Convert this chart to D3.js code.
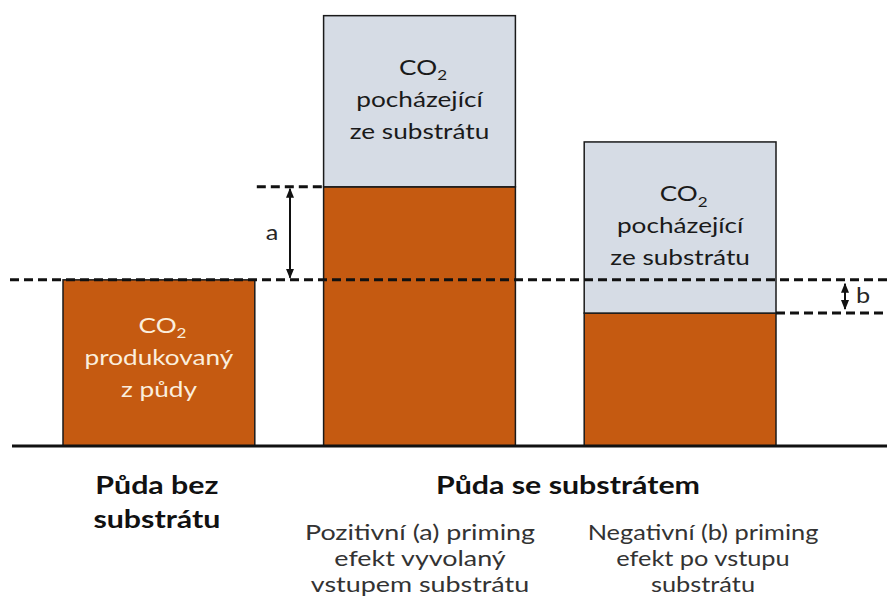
<!DOCTYPE html>
<html>
<head>
<meta charset="utf-8">
<script src="https://cdn.jsdelivr.net/npm/d3@7"></script>
<style>
  body { margin: 0; background: #fff; }
  svg { display: block; font-family: Lato, "Open Sans", sans-serif; }
</style>
</head>
<body>
<svg id="chart" width="887" height="607"></svg>
<script>
// data (soil CO2 without substrate = 100)
var categories = ["bez", "pozitivni", "negativni"];
var soilCO2 = [100, 156, 80];
var substrateCO2 = [0, 103, 103];
var soilLabel = ["CO|2", "produkovaný", "z půdy"];
var substrateLabel = ["CO|2", "pocházející", "ze substrátu"];
var groupLabels = [["Půda bez", "substrátu"], ["Půda se substrátem"]];
var effectLabels = [["Pozitivní (a) priming", "efekt vyvolaný", "vstupem substrátu"],
                    ["Negativní (b) priming", "efekt po vstupu", "substrátu"]];

var orange = "#c55a11", grey = "#d6dce5";

window.onload = function() {
  makeChart();
};

// text block centred on cx, slightly widened like the original
function addText(svg, lines, cx, y0, step, size, sx) {
  var t = svg.append("text")
      .attr("transform", "translate(" + cx + ",0) scale(" + sx + ",1)")
      .attr("text-anchor", "middle")
      .attr("font-size", size);
  lines.forEach(function(line, k) {
    var yy = y0 + k * step;
    if (line.indexOf("|") >= 0) {
      var parts = line.split("|");
      var ln = t.append("tspan").attr("x", 3).attr("y", yy);
      ln.text(parts[0]);
      ln.append("tspan").attr("font-size", size * 0.65).attr("dy", 5).text(parts[1]);
    } else {
      t.append("tspan").attr("x", 0).attr("y", yy).text(line);
    }
  });
  return t;
}

function makeChart() {
  var svg = d3.select("#chart");

  var x = d3.scaleBand()
      .domain(categories)
      .range([63, 776])
      .paddingInner(0.264)
      .paddingOuter(0);

  var y = d3.scaleLinear()
      .domain([0, 260])
      .range([446, 14]);

  var bw = x.bandwidth();

  // soil part
  svg.selectAll("rect.soil")
      .data(categories)
    .enter().append("rect")
      .attr("class", "soil")
      .attr("x", function(d) { return x(d); })
      .attr("y", function(d, i) { return y(soilCO2[i]); })
      .attr("width", bw)
      .attr("height", function(d, i) { return y(0) - y(soilCO2[i]); })
      .attr("fill", orange)
      .attr("stroke", "#1a1a1a")
      .attr("stroke-width", 1.5);

  // substrate part
  svg.selectAll("rect.sub")
      .data(categories.filter(function(d, i) { return substrateCO2[i] > 0; }))
    .enter().append("rect")
      .attr("class", "sub")
      .attr("x", function(d) { return x(d); })
      .attr("y", function(d) { var i = categories.indexOf(d); return y(soilCO2[i] + substrateCO2[i]); })
      .attr("width", bw)
      .attr("height", function(d) { var i = categories.indexOf(d); return y(0) - y(substrateCO2[i]); })
      .attr("fill", grey)
      .attr("stroke", "#1a1a1a")
      .attr("stroke-width", 1.5);

  // baseline
  svg.append("line")
      .attr("x1", 12).attr("x2", 887)
      .attr("y1", y(0)).attr("y2", y(0))
      .attr("stroke", "#111").attr("stroke-width", 3);

  // dashed reference lines
  var dash = "9,5";
  svg.append("line")
      .attr("x1", 10).attr("x2", 887)
      .attr("y1", y(soilCO2[0])).attr("y2", y(soilCO2[0]))
      .attr("stroke", "#111").attr("stroke-width", 3).attr("stroke-dasharray", dash);
  svg.append("line")
      .attr("x1", x(categories[0]) + bw + 2).attr("x2", x(categories[1]))
      .attr("y1", y(soilCO2[1])).attr("y2", y(soilCO2[1]))
      .attr("stroke", "#111").attr("stroke-width", 3).attr("stroke-dasharray", dash);
  svg.append("line")
      .attr("x1", x(categories[2]) + bw).attr("x2", 887)
      .attr("y1", y(soilCO2[2])).attr("y2", y(soilCO2[2]))
      .attr("stroke", "#111").attr("stroke-width", 3).attr("stroke-dasharray", dash);

  // arrow markers
  svg.append("defs").append("marker")
      .attr("id", "head")
      .attr("viewBox", "0 0 10 10")
      .attr("refX", 9).attr("refY", 5)
      .attr("markerWidth", 5).attr("markerHeight", 5)
      .attr("orient", "auto-start-reverse")
      .attr("markerUnits", "strokeWidth")
    .append("path")
      .attr("d", "M0,1 L10,5 L0,9 z")
      .attr("fill", "#111");

  // arrow a
  svg.append("line")
      .attr("x1", 290).attr("x2", 290)
      .attr("y1", y(soilCO2[1]) + 2).attr("y2", y(soilCO2[0]) - 2)
      .attr("stroke", "#111").attr("stroke-width", 2)
      .attr("marker-start", "url(#head)").attr("marker-end", "url(#head)");
  addText(svg, ["a"], 272, (y(soilCO2[1]) + y(soilCO2[0])) / 2 + 7, 0, 22, 1.15)
      .attr("fill", "#262626");

  // arrow b
  svg.append("line")
      .attr("x1", 845).attr("x2", 845)
      .attr("y1", y(soilCO2[0]) + 4).attr("y2", y(soilCO2[2]) - 4)
      .attr("stroke", "#111").attr("stroke-width", 2)
      .attr("marker-start", "url(#head)").attr("marker-end", "url(#head)");
  addText(svg, ["b"], 863, (y(soilCO2[0]) + y(soilCO2[2])) / 2 + 7, 0, 22, 1.15)
      .attr("fill", "#262626");

  // labels inside the bars
  categories.forEach(function(d, i) {
    var cx = x(d) + bw / 2;
    if (substrateCO2[i] > 0) {
      var top = y(soilCO2[i] + substrateCO2[i]), bot = y(soilCO2[i]);
      addText(svg, substrateLabel, cx, (top + bot) / 2 + 6 - 32, 32, 22, 1.19)
          .attr("fill", "#1a1a1a");
    } else {
      addText(svg, soilLabel, cx, (y(soilCO2[i]) + y(0)) / 2 + 2 - 32, 32, 22, 1.19)
          .attr("fill", "#fbeedd");
    }
  });

  // group labels under the axis
  addText(svg, groupLabels[0], x(categories[0]) + bw / 2 - 2, 494, 34, 25.5, 1.19)
      .attr("font-weight", "bold").attr("fill", "#111");
  addText(svg, groupLabels[1], 568, 494, 34, 25.5, 1.19)
      .attr("font-weight", "bold").attr("fill", "#111");

  // effect descriptions
  var ecx = [420, 703], esx = [1.25, 1.18];
  effectLabels.forEach(function(lines, j) {
    addText(svg, lines, ecx[j], 540, 26, 21.5, esx[j]).attr("fill", "#333");
  });
}
</script>
</body>
</html>
